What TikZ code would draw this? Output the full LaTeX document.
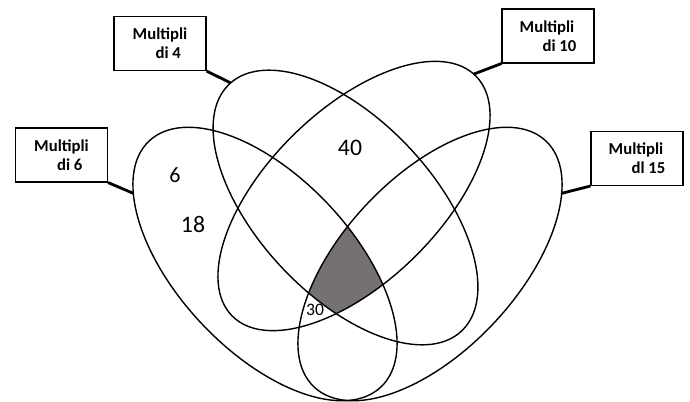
\documentclass[tikz,border=0pt]{standalone}
\usepackage{fontspec}
\setmainfont{Carlito}
\usetikzlibrary{positioning}
\definecolor{allfour}{RGB}{119,112,112}
\tikzset{
  setline/.style={line width=0.8pt},
  ellA/.style={shift={(5.30,2.74)}, rotate=-46.7},
  ellB/.style={shift={(6.91,3.87)}, rotate=-46.8},
  ellC/.style={shift={(7.08,4.10)}, rotate=44.5},
  ellD/.style={shift={(8.60,2.74)}, rotate=46.7},
  labelbox/.style={draw, line width=0.6pt, minimum width=1.84cm, minimum height=1.08cm,
    align=left, inner sep=2pt, font=\fontsize{9.5}{10.8}\selectfont\bfseries},
  pinline/.style={line width=1.6pt},
  numtext/.style={font=\fontsize{13.5}{16}\selectfont, inner sep=1pt},
}

\begin{document}
\begin{tikzpicture}
      \useasboundingbox (0,0) rectangle (13.8,8.02);

      % Shaded region: inside all four sets
      \begin{scope}
        \clip[ellA] (0,0) ellipse (3.38 and 1.74);
        \clip[ellB] (0,0) ellipse (3.39 and 1.75);
        \clip[ellC] (0,0) ellipse (3.42 and 1.72);
        \fill[allfour, ellD] (0,0) ellipse (3.38 and 1.74);
      \end{scope}

      % The four ellipses (6, 4, 10, 15)
      \draw[setline, ellA] (0,0) ellipse (3.38 and 1.74) (213:3.38 and 1.74) coordinate (tipA);
      \draw[setline, ellB] (0,0) ellipse (3.39 and 1.75) (179:3.39 and 1.75) coordinate (tipB);
      \draw[setline, ellC] (0,0) ellipse (3.42 and 1.72) (2:3.42 and 1.72) coordinate (tipC);
      \draw[setline, ellD] (0,0) ellipse (3.38 and 1.74) (327:3.38 and 1.74) coordinate (tipD);

      % Label boxes
      \node[labelbox] (box6) at (1.23,4.92) {Multipli\\\hspace*{13pt}di 6};
      \node[labelbox] (box4) at (3.20,7.15) {Multipli\\\hspace*{13pt}di 4};
      \node[labelbox] (box10) at (10.96,7.30) {Multipli\\\hspace*{13pt}di 10};
      \node[labelbox] (box15) at (12.74,4.85) {Multipli\\\hspace*{13pt}dl 15};

      % Connectors from the boxes to the ellipses
      \draw[pinline] (box6.south east) -- (tipA);
      \draw[pinline] (box4.south east) -- (tipB);
      \draw[pinline] (box10.south west) -- (tipC);
      \draw[pinline] (box15.south west) -- (tipD);

      % Numbers
      \node[numtext, font=\fontsize{12.5}{15}\selectfont] (n6) at (3.50,4.52) {6};
      \node[numtext] (n18) at (3.86,3.54) {18};
      \node[numtext] (n40) at (7.00,5.06) {40};
      \node[numtext, font=\fontsize{10}{12}\selectfont] (n30) at (6.30,1.82) {30};
\end{tikzpicture}
\end{document}
